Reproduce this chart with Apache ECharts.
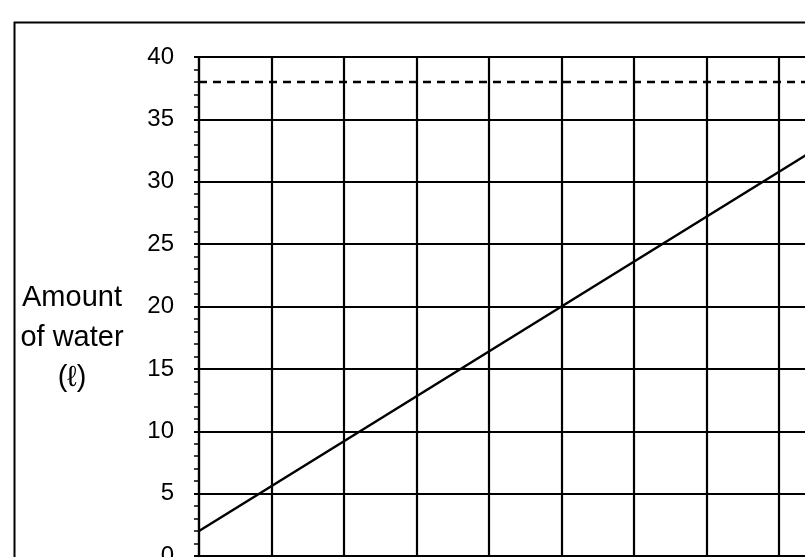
<!DOCTYPE html>
<html>
<head>
<meta charset="utf-8">
<script src="https://cdn.jsdelivr.net/npm/echarts@6/dist/echarts.min.js"></script>
<style>
html,body{margin:0;padding:0;background:#fff;overflow:hidden;width:805px;height:557px;}
#chart{width:1000px;height:600px;}
</style>
</head>
<body>
<div id="chart"></div>
<script>
// Data
var timeValues = [0, 10];
var waterValues = [2, 38];
var fullLevelX = [0, 10];
var fullLevelY = [38, 38];
var yTicks = [0, 5, 10, 15, 20, 25, 30, 35, 40];
var yTitleLines = ['Amount', 'of water', '(ℓ)'];

var chart = echarts.init(document.getElementById('chart'), null, {renderer: 'canvas'});

function pairs(xs, ys) {
  return xs.map(function (x, i) { return [x, ys[i]]; });
}

var option = {
  backgroundColor: '#fff',
  animation: false,
  grid: {left: 199, top: 57, right: 76, bottom: 44, containLabel: false, outerBoundsMode: 'none'},
  xAxis: {
    type: 'value', min: 0, max: 10, interval: 1,
    axisLine: {show: true, lineStyle: {color: '#000', width: 2}},
    axisTick: {show: false},
    axisLabel: {show: false},
    splitLine: {show: true, lineStyle: {color: '#000', width: 2.2}}
  },
  yAxis: {
    type: 'value', min: yTicks[0], max: yTicks[yTicks.length - 1], interval: 5,
    axisLine: {show: true, lineStyle: {color: '#000', width: 2.2}},
    axisTick: {show: true, length: 5, lineStyle: {color: '#000', width: 2}},
    minorTick: {show: true, splitNumber: 5, length: 5, lineStyle: {color: '#000', width: 1.5}},
    axisLabel: {
      show: true, margin: 25, color: '#000', fontSize: 24,
      fontFamily: 'Liberation Sans, Arial, sans-serif'
    },
    splitLine: {show: true, lineStyle: {color: '#000', width: 2.2}}
  },
  series: [
    {
      type: 'line', data: pairs(timeValues, waterValues), showSymbol: false,
      lineStyle: {color: '#000', width: 2.5}, silent: true
    },
    {
      type: 'line', data: pairs(fullLevelX, fullLevelY), showSymbol: false,
      lineStyle: {color: '#000', width: 2.5, type: [8, 6]}, silent: true
    }
  ],
  graphic: [
    {
      type: 'rect', left: 12, top: 20, silent: true,
      shape: {width: 1200, height: 1000},
      style: {fill: 'none', stroke: '#000', lineWidth: 2}
    },
    {
      type: 'text', silent: true, x: 72, y: 338,
      style: {
        text: yTitleLines.join('\n'), fill: '#000', fontSize: 29, lineHeight: 40,
        fontFamily: 'Liberation Sans, Arial, sans-serif',
        align: 'center', verticalAlign: 'middle'
      }
    }
  ]
};
chart.setOption(option);
</script>
</body>
</html>
